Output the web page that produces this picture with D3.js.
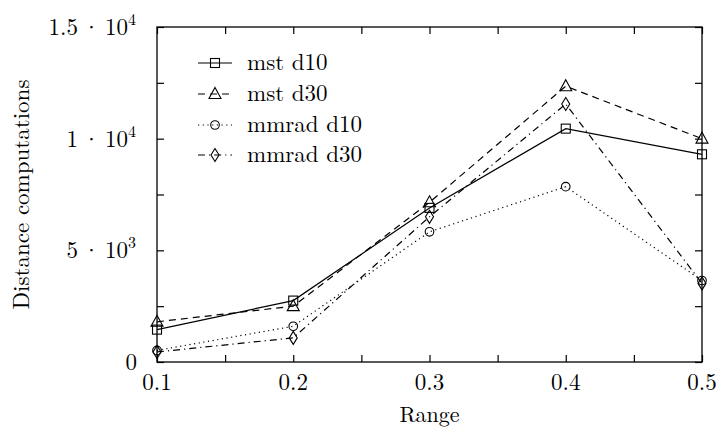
<!DOCTYPE html>
<html>
<head>
<meta charset="utf-8">
<script src="https://cdn.jsdelivr.net/npm/d3@7"></script>
<style>
    body { margin: 0; background: #fff; }
    text { font-family: "Latin Modern Roman", "CMU Serif", "DejaVu Serif", serif; fill: #000; }
</style>
</head>
<body>
<svg id="chart" width="718" height="440"></svg>
<script>
// data
let ranges = [0.1, 0.2, 0.3, 0.4, 0.5];
let mstD10 = [1450, 2750, 6900, 10450, 9300];
let mstD30 = [1800, 2500, 7150, 12350, 10000];
let mmradD10 = [520, 1600, 5830, 7850, 3650];
let mmradD30 = [450, 1080, 6500, 11550, 3520];
let seriesNames = ["mst d10", "mst d30", "mmrad d10", "mmrad d30"];
let xTicks = [0.1, 0.2, 0.3, 0.4, 0.5];
let yTicks = [0, 5000, 10000, 15000];

let svg = d3.select("#chart");
let plotLeft = 157, plotRight = 702, plotTop = 27, plotBottom = 362;

let x = d3.scaleLinear().domain([0.1, 0.5]).range([plotLeft, plotRight]);
let y = d3.scaleLinear().domain([0, 15000]).range([plotBottom, plotTop]);

let series = [
    {name: seriesNames[0], values: mstD10, dash: null, marker: "square"},
    {name: seriesNames[1], values: mstD30, dash: "7,5", marker: "triangle"},
    {name: seriesNames[2], values: mmradD10, dash: "1.2,3.5", marker: "circle"},
    {name: seriesNames[3], values: mmradD30, dash: "7,4,1.2,4", marker: "diamond"}
];

// frame
svg.append("rect")
    .attr("x", plotLeft).attr("y", plotTop)
    .attr("width", plotRight - plotLeft).attr("height", plotBottom - plotTop)
    .attr("fill", "none").attr("stroke", "#000").attr("stroke-width", 1.3);

// axes with ticks pointing inward, minor ticks too
let tickLen = 7;
let xMinor = d3.range(0.1, 0.501, 0.05);
let yMinor = d3.range(0, 15001, 2500);

svg.append("g")
    .attr("transform", "translate(0," + plotBottom + ")")
    .call(d3.axisBottom(x).tickValues(xMinor).tickSize(-tickLen).tickFormat(""))
    .call(g => g.select(".domain").remove());
svg.append("g")
    .attr("transform", "translate(0," + plotTop + ")")
    .call(d3.axisTop(x).tickValues(xMinor).tickSize(-tickLen).tickFormat(""))
    .call(g => g.select(".domain").remove());
svg.append("g")
    .attr("transform", "translate(" + plotLeft + ",0)")
    .call(d3.axisLeft(y).tickValues(yMinor).tickSize(-tickLen).tickFormat(""))
    .call(g => g.select(".domain").remove());
svg.append("g")
    .attr("transform", "translate(" + plotRight + ",0)")
    .call(d3.axisRight(y).tickValues(yMinor).tickSize(-tickLen).tickFormat(""))
    .call(g => g.select(".domain").remove());
svg.selectAll(".tick line").attr("stroke", "#000").attr("stroke-width", 1.2);

// x tick labels
svg.selectAll(".xlab")
    .data(xTicks)
    .enter().append("text")
    .attr("x", d => x(d))
    .attr("y", 390)
    .attr("text-anchor", "middle")
    .style("font-size", "23px")
    .text(d => d.toFixed(1));

// y tick labels, a·10^b
function yLabel(sel, d) {
    if (d === 0) {
        sel.append("tspan").text("0");
        return;
    }
    let exp = Math.floor(Math.log10(d));
    let mant = d / Math.pow(10, exp);
    sel.append("tspan").text(mant + "\u2009\u00b7\u200910");
    sel.append("tspan").attr("dy", -10).style("font-size", "16px").text(exp);
}
yTicks.forEach(function (d) {
    let t = svg.append("text")
        .attr("x", d === 0 ? 137 : 136)
        .attr("y", y(d) + 8)
        .attr("text-anchor", "end")
        .style("font-size", "23px");
    yLabel(t, d);
});

// axis titles
svg.append("text")
    .attr("x", (plotLeft + plotRight) / 2)
    .attr("y", 422)
    .attr("text-anchor", "middle")
    .style("font-size", "22px")
    .text("Range");
svg.append("text")
    .attr("transform", "translate(29," + ((plotTop + plotBottom) / 2) + ") rotate(-90)")
    .attr("text-anchor", "middle")
    .style("font-size", "23px")
    .text("Distance computations");

// markers
function drawMarker(g, type, cx, cy) {
    let m;
    if (type === "square") {
        m = g.append("rect").attr("x", cx - 4.5).attr("y", cy - 4.5).attr("width", 9).attr("height", 9);
    } else if (type === "triangle") {
        m = g.append("path").attr("d", "M" + cx + "," + (cy - 6.5) + "L" + (cx + 6) + "," + (cy + 4.5) + "L" + (cx - 6) + "," + (cy + 4.5) + "Z");
    } else if (type === "circle") {
        m = g.append("circle").attr("cx", cx).attr("cy", cy).attr("r", 4.3);
    } else {
        m = g.append("path").attr("d", "M" + cx + "," + (cy - 6.5) + "L" + (cx + 4) + "," + cy + "L" + cx + "," + (cy + 6.5) + "L" + (cx - 4) + "," + cy + "Z");
    }
    m.attr("fill", "none").attr("stroke", "#000").attr("stroke-width", 1.1);
}

let line = d3.line()
    .x((d, i) => x(ranges[i]))
    .y(d => y(d));

series.forEach(function (s) {
    let g = svg.append("g");
    g.append("path")
        .datum(s.values)
        .attr("d", line)
        .attr("fill", "none")
        .attr("stroke", "#000")
        .attr("stroke-width", 1.2)
        .attr("stroke-dasharray", s.dash);
    s.values.forEach((v, i) => drawMarker(g, s.marker, x(ranges[i]), y(v)));
});

// legend
let legendY = [63, 94, 125, 155];
series.forEach(function (s, i) {
    let g = svg.append("g");
    g.append("line")
        .attr("x1", 198).attr("x2", 232)
        .attr("y1", legendY[i]).attr("y2", legendY[i])
        .attr("stroke", "#000").attr("stroke-width", 1.2)
        .attr("stroke-dasharray", s.dash);
    drawMarker(g, s.marker, 215, legendY[i]);
    g.append("text")
        .attr("x", 247)
        .attr("y", legendY[i] + 7)
        .style("font-size", "23px")
        .text(s.name);
});
</script>
</body>
</html>
